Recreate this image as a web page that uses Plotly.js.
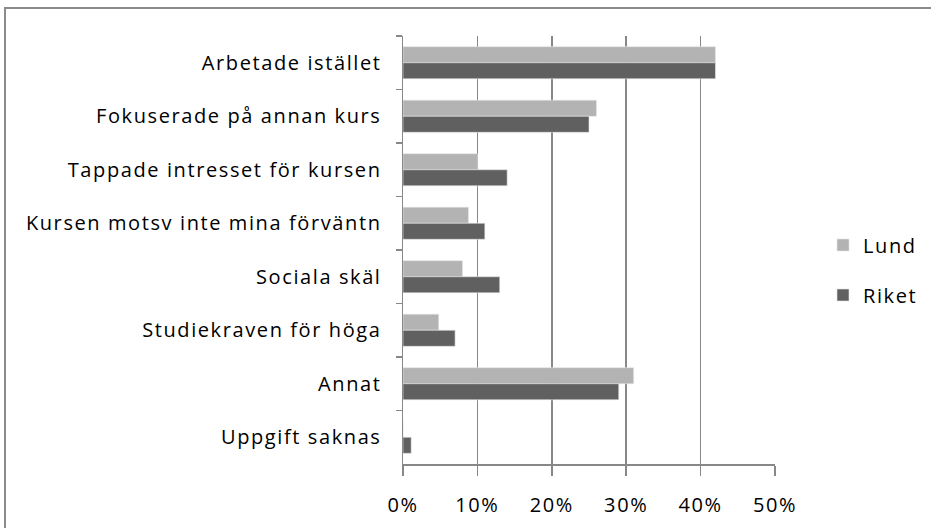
<!DOCTYPE html>
<html>
<head>
<meta charset="utf-8">
<script src="https://cdn.plot.ly/plotly-3.0.1.min.js"></script>
<style>
html,body{margin:0;padding:0;background:#fff;overflow:hidden;}
#chart{width:931px;height:528px;}
#chart svg text{letter-spacing:1.6px;}
</style>
</head>
<body>
<div id="chart"></div>
<script>
const categories = [
  "Arbetade istället",
  "Fokuserade på annan kurs",
  "Tappade intresset för kursen",
  "Kursen motsv inte mina förväntn",
  "Sociala skäl",
  "Studiekraven för höga",
  "Annat",
  "Uppgift saknas"
];
const lund  = [0.42, 0.26, 0.10, 0.088, 0.08, 0.048, 0.31, 0];
const riket = [0.42, 0.25, 0.14, 0.11, 0.13, 0.07, 0.29, 0.011];
const seriesNames = ["Lund", "Riket"];
const xTickVals = [0, 0.1, 0.2, 0.3, 0.4, 0.5];
const xTickText = ["0%", "10%", "20%", "30%", "40%", "50%"];

const W = 931, H = 528;
const mL = 403, mR = 156, mT = 36, mB = 64;
const pw = W - mL - mR, ph = H - mT - mB;
const font = {family: "Open Sans, Noto Sans, sans-serif", size: 20, color: "#000"};

const traces = [
  {type: "bar", orientation: "h", name: seriesNames[0], y: categories, x: lund,
   marker: {color: "#b3b3b3", line: {color: "#e6e6e6", width: 0.6}}, legendgroup: "a", hoverinfo: "x+y"},
  {type: "bar", orientation: "h", name: seriesNames[1], y: categories, x: riket,
   marker: {color: "#606060", line: {color: "#e6e6e6", width: 0.6}}, legendgroup: "b", hoverinfo: "x+y"}
];

const layout = {
  width: W, height: H,
  margin: {l: mL, r: mR, t: mT, b: mB, pad: 0},
  paper_bgcolor: "#fff", plot_bgcolor: "#fff",
  font: font,
  barmode: "group",
  bargap: 0.4,
  bargroupgap: 0,
  showlegend: true,
  legend: {x: (823 - mL) / pw, xanchor: "left", y: 1 - (270 - mT) / ph, yanchor: "middle",
           font: font, traceorder: "grouped", tracegroupgap: 21, bgcolor: "rgba(0,0,0,0)"},
  xaxis: {
    range: [0, 0.5], tickvals: xTickVals, ticktext: xTickText,
    showgrid: true, gridcolor: "#888", gridwidth: 1.5,
    showline: true, linecolor: "#888", linewidth: 1.5,
    ticks: "outside", ticklen: 10, tickcolor: "#888", tickwidth: 1.5,
    ticklabelstandoff: 12, zeroline: false, fixedrange: true
  },
  yaxis: {
    type: "category", autorange: "reversed", tickson: "boundaries",
    showline: true, linecolor: "#888", linewidth: 1.5,
    ticks: "outside", ticklen: 6, tickcolor: "#888", tickwidth: 1.5,
    ticklabelstandoff: 16, showgrid: false, fixedrange: true
  },
  shapes: [{
    type: "rect", xref: "paper", yref: "paper",
    x0: (5 - mL) / pw, x1: 2, y0: -1, y1: 1 + (mT - 8) / ph,
    line: {color: "#8a8a8a", width: 2}, fillcolor: "rgba(0,0,0,0)", layer: "below"
  }]
};

Plotly.newPlot("chart", traces, layout, {displayModeBar: false, staticPlot: true});
</script>
</body>
</html>
